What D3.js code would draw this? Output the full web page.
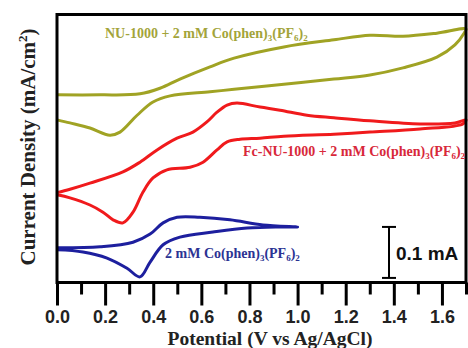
<!DOCTYPE html>
<html>
<head>
<meta charset="utf-8">
<script src="https://cdn.jsdelivr.net/npm/d3@7"></script>
<style>
  body { margin: 0; background: #fff; }
</style>
</head>
<body>
<div id="cv-wrapper"></div>
<script>
/// data: [potential (V), current (mA/cm2, offset)] ///
const nuForward = [[0,0.367],[0.179,0.367],[0.345,0.369],[0.428,0.380],[0.511,0.398],[0.636,0.422],[0.736,0.439],[0.943,0.461],[1.151,0.475],[1.301,0.484],[1.438,0.482],[1.579,0.488],[1.700,0.496]];
const nuReverse = [[1.692,0.488],[1.654,0.465],[1.579,0.441],[1.438,0.420],[1.301,0.406],[1.151,0.398],[0.943,0.388],[0.736,0.378],[0.636,0.373],[0.470,0.365],[0.399,0.353],[0.333,0.327],[0.262,0.294],[0.220,0.288],[0.137,0.302],[0.054,0.312],[0,0.318]];

const fcForward = [[0,0.175],[0.054,0.182],[0.137,0.194],[0.274,0.216],[0.345,0.235],[0.416,0.259],[0.499,0.282],[0.565,0.294],[0.623,0.314],[0.665,0.333],[0.707,0.347],[0.748,0.351],[0.844,0.343],[0.927,0.337],[1.039,0.327],[1.151,0.322],[1.301,0.316],[1.509,0.310],[1.654,0.312],[1.700,0.318]];
const fcReverse = [[1.687,0.310],[1.509,0.300],[1.301,0.294],[1.151,0.290],[0.943,0.286],[0.844,0.282],[0.761,0.280],[0.707,0.275],[0.665,0.259],[0.607,0.235],[0.553,0.225],[0.457,0.220],[0.399,0.204],[0.357,0.176],[0.316,0.137],[0.274,0.116],[0.233,0.122],[0.191,0.137],[0.137,0.151],[0.054,0.165],[0,0.171]];

const coForward = [[0,0.067],[0.179,0.069],[0.316,0.078],[0.387,0.094],[0.441,0.116],[0.499,0.127],[0.594,0.127],[0.719,0.122],[0.856,0.112],[1.0,0.108]];
const coReverse = [[0.927,0.108],[0.790,0.106],[0.648,0.098],[0.511,0.088],[0.441,0.073],[0.387,0.039],[0.345,0.010],[0.291,0.027],[0.208,0.047],[0.108,0.059],[0,0.063]];

const majorTicks = [0, 0.2, 0.4, 0.6, 0.8, 1.0, 1.2, 1.4, 1.6];
const minorTicks = [0.1, 0.3, 0.5, 0.7, 0.9, 1.1, 1.3, 1.5, 1.7];
const scaleBar = { v: 1.38, from: 0.008, size: 0.1, label: "0.1 mA" };

const width = 468;
const height = 348;
const plotLeft = 57, plotRight = 466, plotTop = 14.5, plotBottom = 282.5;

const svg = d3.select("#cv-wrapper")
  .append("svg")
    .attr("width", width)
    .attr("height", height)

const x = d3.scaleLinear().domain([0, 1.7]).range([plotLeft, plotRight]);
const y = d3.scaleLinear().domain([0, 0.525]).range([282, 14.3]);

const line = d3.line()
  .x(d => x(d[0]))
  .y(d => y(d[1]))
  .curve(d3.curveCatmullRom.alpha(0.5))

/// the three CV loops ///
const curves = [
  { pts: nuForward.concat(nuReverse), color: "#a0a324" },
  { pts: fcForward.concat(fcReverse), color: "#f01a1c" },
  { pts: coForward.concat(coReverse), color: "#1d1f9e" }
];

svg.selectAll("path.cv")
  .data(curves)
  .join("path")
    .attr("class", "cv")
    .attr("d", d => line(d.pts))
    .attr("fill", "none")
    .attr("stroke", d => d.color)
    .attr("stroke-width", 3)
    .attr("stroke-linejoin", "round")

/// frame ///
svg.append("rect")
  .attr("x", plotLeft)
  .attr("y", plotTop)
  .attr("width", plotRight - plotLeft)
  .attr("height", plotBottom - plotTop)
  .attr("fill", "none")
  .attr("stroke", "#000")
  .attr("stroke-width", 3)

/// x axis: major + minor ticks ///
const majorAxis = svg.append("g")
  .attr("transform", `translate(0,${plotBottom})`)
  .call(d3.axisBottom(x).tickValues(majorTicks).tickSize(23).tickPadding(5).tickFormat(d3.format(".1f")))
majorAxis.select(".domain").remove()
majorAxis.selectAll("line").attr("stroke", "#000").attr("stroke-width", 3)
majorAxis.selectAll("text")
  .style("font-family", "'Liberation Sans', Arial, sans-serif")
  .style("font-weight", "bold")
  .style("font-size", "18px")
  .attr("fill", "#222")

const minorAxis = svg.append("g")
  .attr("transform", `translate(0,${plotBottom})`)
  .call(d3.axisBottom(x).tickValues(minorTicks).tickSize(12).tickFormat(""))
minorAxis.select(".domain").remove()
minorAxis.selectAll("line").attr("stroke", "#000").attr("stroke-width", 3)

/// axis titles ///
svg.append("text")
  .attr("x", 270)
  .attr("y", 345)
  .attr("text-anchor", "middle")
  .style("font-family", "'Liberation Serif', 'Times New Roman', serif")
  .style("font-weight", "bold")
  .style("font-size", "19.5px")
  .attr("fill", "#222")
  .text("Potential (V vs Ag/AgCl)")

const yTitle = svg.append("text")
  .attr("transform", "translate(35,147) rotate(-90)")
  .attr("text-anchor", "middle")
  .style("font-family", "'Liberation Serif', 'Times New Roman', serif")
  .style("font-weight", "bold")
  .style("font-size", "21px")
  .attr("fill", "#222")
yTitle.append("tspan").text("Current Density (mA/cm")
yTitle.append("tspan").attr("dy", -8).style("font-size", "13px").text("2")
yTitle.append("tspan").attr("dy", 8).text(")")

/// curve labels with subscripts ///
const labels = [
  { prefix: "NU-1000 + 2 mM Co(phen)", x: 105, y: 38, color: "#a3a43a" },
  { prefix: "Fc-NU-1000 + 2 mM Co(phen)", x: 243, y: 156, color: "#d8283a" },
  { prefix: "2 mM Co(phen)", x: 165, y: 258, color: "#2b3393" }
];

labels.forEach(l => {
  const t = svg.append("text")
    .attr("x", l.x)
    .attr("y", l.y)
    .style("font-family", "'Liberation Serif', 'Times New Roman', serif")
    .style("font-weight", "bold")
    .style("font-size", "14px")
    .attr("fill", l.color)
  t.append("tspan").text(l.prefix)
  t.append("tspan").attr("dy", 3).style("font-size", "9px").text("3")
  t.append("tspan").attr("dy", -3).text("(PF")
  t.append("tspan").attr("dy", 3).style("font-size", "9px").text("6")
  t.append("tspan").attr("dy", -3).text(")")
  t.append("tspan").attr("dy", 3).style("font-size", "9px").text("2")
})

/// scale bar ///
const sb = svg.append("g").attr("stroke", "#000").attr("stroke-width", 2)
sb.append("line")
  .attr("x1", x(scaleBar.v)).attr("x2", x(scaleBar.v))
  .attr("y1", y(scaleBar.from)).attr("y2", y(scaleBar.from + scaleBar.size))
sb.selectAll("line.cap")
  .data([scaleBar.from, scaleBar.from + scaleBar.size])
  .join("line")
    .attr("class", "cap")
    .attr("x1", x(scaleBar.v) - 7).attr("x2", x(scaleBar.v) + 7)
    .attr("y1", d => y(d)).attr("y2", d => y(d))

svg.append("text")
  .attr("x", x(scaleBar.v) + 7)
  .attr("y", 260)
  .style("font-family", "'Liberation Sans', Arial, sans-serif")
  .style("font-weight", "bold")
  .style("font-size", "19px")
  .attr("fill", "#111")
  .text(scaleBar.label)
</script>
</body>
</html>
